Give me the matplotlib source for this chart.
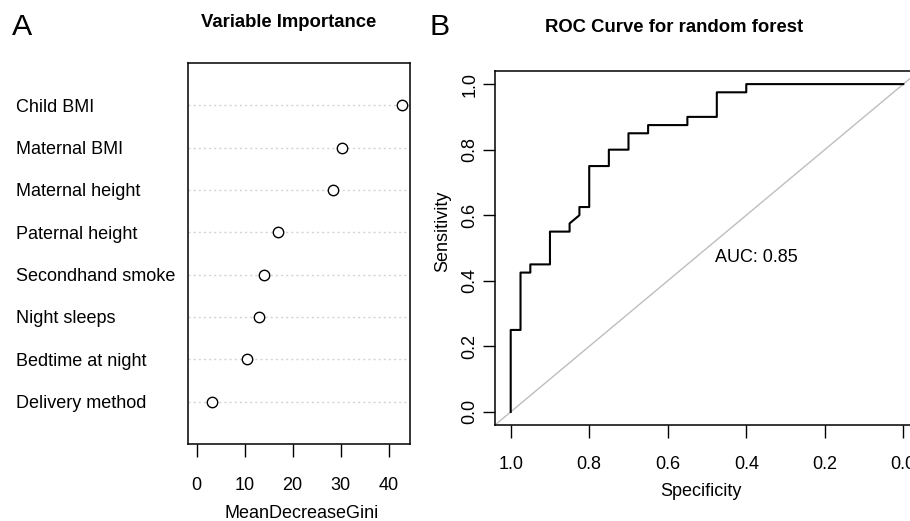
import matplotlib
matplotlib.use("Agg")
import matplotlib.pyplot as plt
import matplotlib.transforms as mtransforms

plt.rcParams['font.family'] = ['Liberation Sans', 'DejaVu Sans']

# ---- Data ----
variables = ["Delivery method", "Bedtime at night", "Night sleeps", "Secondhand smoke",
             "Paternal height", "Maternal height", "Maternal BMI", "Child BMI"]
gini = [3.3, 10.6, 13.0, 14.1, 16.9, 28.3, 30.3, 42.7]
gini_ticks = [0, 10, 20, 30, 40]

specificity = [1.0, 1.0, 0.975, 0.975, 0.95, 0.95, 0.9, 0.9, 0.85, 0.85, 0.825, 0.825,
               0.8, 0.8, 0.75, 0.75, 0.7, 0.7, 0.65, 0.65, 0.55, 0.55, 0.475, 0.475,
               0.4, 0.4, 0.0]
sensitivity = [0.0, 0.25, 0.25, 0.425, 0.425, 0.45, 0.45, 0.55, 0.55, 0.575, 0.6, 0.625,
               0.625, 0.75, 0.75, 0.8, 0.8, 0.85, 0.85, 0.875, 0.875, 0.9, 0.9, 0.975,
               0.975, 1.0, 1.0]
roc_ticks = [1.0, 0.8, 0.6, 0.4, 0.2, 0.0]
roc_ticklabels = ["1.0", "0.8", "0.6", "0.4", "0.2", "0.0"]
auc_text = "AUC: 0.85"

W, H = 910, 521
fig = plt.figure(figsize=(W / 100, H / 100), dpi=100)

def fx(x):
    return x / W

def fy(y):
    return 1 - y / H

FS = 13
LW_BOX = 1.1

# ---- Panel A ----
axA = fig.add_axes([fx(188.3), fy(444), fx(410) - fx(188.3), fy(63) - fy(444)])
ypos = list(range(1, len(variables) + 1))
for y in ypos:
    axA.axhline(y, color="#D3D3D3", lw=1.0, linestyle=(0, (1.5, 2.2)), zorder=1)
axA.plot(gini, ypos, linestyle="none", marker="o", markersize=7.5,
         markerfacecolor="white", markeredgecolor="black", markeredgewidth=1.0, zorder=3)
gmax = max(gini)
axA.set_xlim(-0.04 * gmax, 1.04 * gmax)
axA.set_ylim(0, len(variables) + 1)
axA.set_yticks([])
axA.set_xticks(gini_ticks)
axA.set_xticklabels([str(t) for t in gini_ticks])
axA.tick_params(axis="x", length=9, width=1.0, pad=14.5, labelsize=FS)
for s in axA.spines.values():
    s.set_linewidth(LW_BOX)

lab_tr = mtransforms.offset_copy(
    mtransforms.blended_transform_factory(fig.transFigure, axA.transData),
    fig=fig, y=-6.4 * 0.72, units="points")
for y, name in zip(ypos, variables):
    axA.text(fx(16), y, name, transform=lab_tr, ha="left", va="baseline", fontsize=FS)

axA.set_xlabel("MeanDecreaseGini", fontsize=FS)
axA.xaxis.label.set_va("baseline")
axA.xaxis.set_label_coords(fx(302), fy(517.5), transform=fig.transFigure)

fig.text(fx(289), fy(27.3), "Variable Importance", ha="center", va="baseline",
         fontsize=13.3, fontweight="bold")
fig.text(fx(12), fy(35), "A", ha="left", va="baseline", fontsize=21.8)

# ---- Panel B ----
axB = fig.add_axes([fx(495), fy(425), fx(919) - fx(495), fy(71) - fy(425)])
axB.axline((1, 0), (0, 1), color="#BEBEBE", lw=1.0, zorder=1)
axB.plot(specificity, sensitivity, color="black", lw=1.5, zorder=3)
axB.set_xlim(1.04, -0.04)
axB.set_ylim(-0.04, 1.04)
axB.set_xticks(roc_ticks)
axB.set_xticklabels(roc_ticklabels)
axB.set_yticks(roc_ticks)
axB.set_yticklabels(roc_ticklabels)
axB.tick_params(axis="x", length=9, width=1.0, pad=13.2, labelsize=FS)
axB.tick_params(axis="y", length=9, width=1.0, pad=3.0, labelsize=FS, labelrotation=90)
for lab in axB.get_yticklabels():
    lab.set_va("center")
for s in axB.spines.values():
    s.set_linewidth(LW_BOX)

axB.text(0.48, 0.456, auc_text, ha="left", va="baseline", fontsize=FS)

axB.set_xlabel("Specificity", fontsize=FS)
axB.xaxis.label.set_va("baseline")
axB.xaxis.set_label_coords(fx(701), fy(496.3), transform=fig.transFigure)
axB.set_ylabel("Sensitivity", fontsize=FS)
axB.yaxis.label.set_va("baseline")
axB.yaxis.set_label_coords(fx(447), fy(231), transform=fig.transFigure)

fig.text(fx(674), fy(32.3), "ROC Curve for random forest", ha="center", va="baseline",
         fontsize=13.3, fontweight="bold")
fig.text(fx(430), fy(35), "B", ha="left", va="baseline", fontsize=21.8)

fig.savefig("out.png", dpi=100)
